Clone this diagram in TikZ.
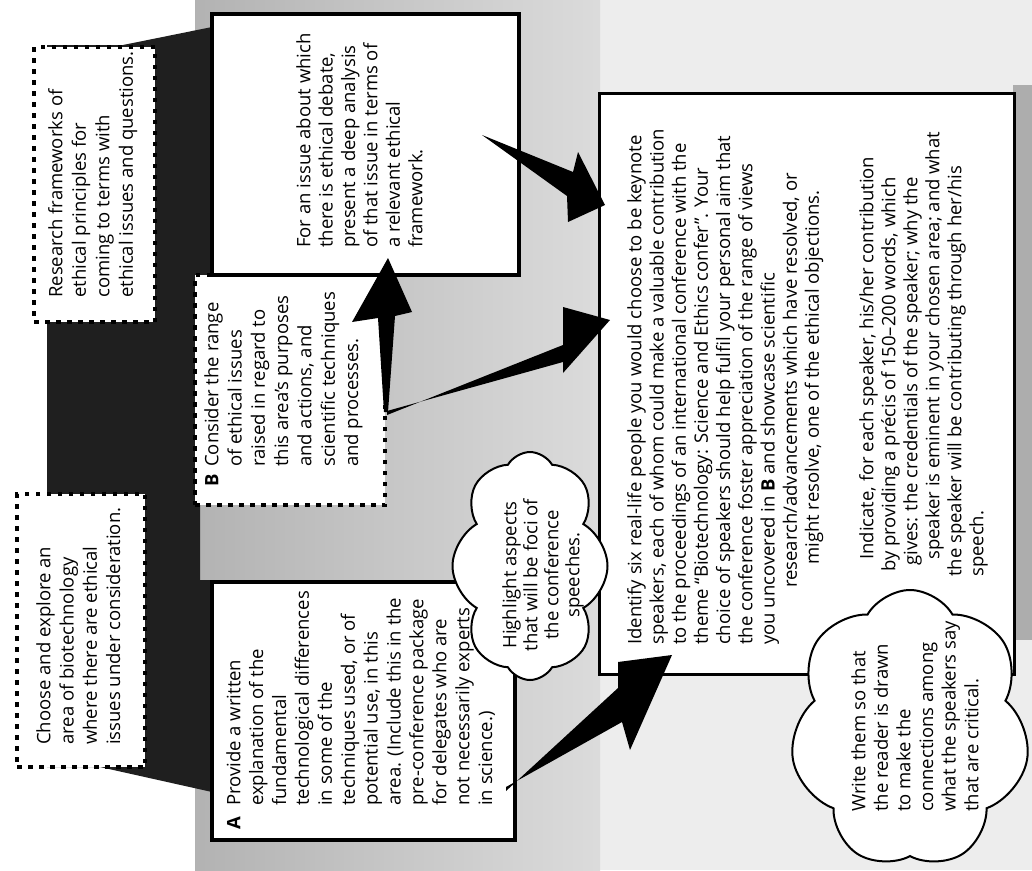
\documentclass[tikz,border=0pt]{standalone}
\usepackage{fontspec}
\setmainfont{Open Sans}
\usetikzlibrary{shapes.symbols}
\begin{document}
\begin{tikzpicture}[x=1pt,y=-1pt,
  solidbox/.style={draw=black, fill=white, line width=3.8pt, inner sep=0pt, anchor=north west},
  dashbox/.style={draw=black, fill=white, line width=4pt, dash pattern=on 4.5pt off 6.5pt, inner sep=0pt, anchor=north west},
  txt/.style={rotate=90, anchor=north west, align=left, inner sep=0pt, font=\fontsize{18.5pt}{#1}\selectfont},
  txt/.default=22.5pt,
  blockarrow/.style={fill=black},
  cloudnode/.style={cloud, cloud puffs=8, cloud puff arc=120, cloud ignores aspect, draw=black, fill=white, line width=2pt, inner sep=0pt}]
\useasboundingbox (0,0) rectangle (1032,870);
\fill[white] (0,0) rectangle (1032,870);
% speckled background
\fill[black!7] (195,0) rectangle (1032,870);
\shade[left color=black!30, right color=black!14] (195,0) rectangle (600,870);
\fill[black!32] (1013,85) rectangle (1032,640);
% dark band
\fill[black!88] (123,45) -- (212,27) -- (212,275) -- (195,275) -- (195,503) -- (200,503) -- (200,580) -- (212,580) -- (212,792) -- (100,767) -- (47,767) -- (47,45) -- cycle;
% boxes
\node[dashbox, minimum width=190pt, minimum height=230pt] (bcon) at (193,273) {};
\node[solidbox, minimum width=307pt, minimum height=261pt] (fiss) at (210,12) {};
\node[solidbox, minimum width=303pt, minimum height=258pt] (abox) at (210,580) {};
\node[solidbox, line width=3.2pt, minimum width=415pt, minimum height=581pt] (main) at (598,92) {};
\node[dashbox, minimum width=121pt, minimum height=275pt] (res) at (32,45) {};
\node[dashbox, minimum width=128pt, minimum height=273pt] (cho) at (15,492) {};
% arrows
\coordinate (t1) at (482,135); \coordinate (h1) at (605,205);
\coordinate (t2) at (387,413); \coordinate (h2) at (610,320);
\coordinate (t4) at (386,412); \coordinate (h4) at (388,258);
\coordinate (t3) at (506,789); \coordinate (h3) at (672,655);
\fill[blockarrow] (t1) -- (573,172) -- (578,152) -- (h1) -- (568,222) -- (567,196) -- cycle;
\fill[blockarrow] ([yshift=-2pt]t2) -- (563,345) -- (563,307) -- (h2) -- (563,373) -- (563,362) -- ([yshift=2pt]t2) -- cycle;
\fill[blockarrow] ([xshift=-2pt]t4) -- (378,318) -- (352,322) -- (h4) -- (412,312) -- (395,316) -- ([xshift=2pt]t4) -- cycle;
\fill[blockarrow] ([yshift=-2pt]t3) -- (618,688) -- (618,662) -- (h3) -- (630,750) -- (622,722) -- ([yshift=2pt]t3) -- cycle;
% clouds
\node[cloudnode, minimum width=155pt, minimum height=228pt] (c1) at (530,566) {};
\node[cloudnode, cloud puffs=7, minimum width=240pt, minimum height=278pt] (c2) at (910,729) {};
% texts
\node[txt=23.5pt] (tres) at (48,298) {Research frameworks of\\ethical principles for\\coming to terms with\\ethical issues and questions.};
\node[txt=23.3pt] (tcho) at (36,745) {Choose and explore an\\area of biotechnology\\where there are ethical\\issues under consideration.};
\node[txt=22.4pt] (tfis) at (296,248) {For an issue about which\\there is ethical debate,\\present a deep analysis\\of that issue in terms of\\a relevant ethical\\framework.};
\node[txt=23.3pt] (tbcon) at (204,487) {\makebox[20pt][l]{\textbf{B}}Consider the range\\\hspace*{20pt}of ethical issues\\\hspace*{20pt}raised in regard to\\\hspace*{20pt}this area’s purposes\\\hspace*{20pt}and actions, and\\\hspace*{20pt}scientific techniques\\\hspace*{20pt}and processes.};
\node[txt=22.9pt] (tabox) at (226,830) {\makebox[24pt][l]{\textbf{A}}Provide a written\\\hspace*{24pt}explanation of the\\\hspace*{24pt}fundamental\\\hspace*{24pt}technological differences\\\hspace*{24pt}in some of the\\\hspace*{24pt}techniques used, or of\\\hspace*{24pt}potential use, in this\\\hspace*{24pt}area. (Include this in the\\\hspace*{24pt}pre-conference package\\\hspace*{24pt}for delegates who are\\\hspace*{24pt}not necessarily experts\\\hspace*{24pt}in science.)};
\node[txt=22.2pt] (tmain) at (627,645) {Identify six real-life people you would choose to be keynote\\speakers, each of whom could make a valuable contribution\\to the proceedings of an international conference with the\\theme “Biotechnology: Science and Ethics confer”. Your\\choice of speakers should help fulfil your personal aim that\\the conference foster appreciation of the range of views\\you uncovered in \textbf{B} and showcase scientific\\\hspace*{57pt}research/advancements which have resolved, or\\\hspace*{80pt}might resolve, one of the ethical objections.};
\node[txt=22.0pt] (tind) at (859,577) {\hspace*{17pt}Indicate, for each speaker, his/her contribution\\\hspace*{5pt}by providing a précis of 150–200 words, which\\\hspace*{11pt}gives: the credentials of the speaker; why the\\\hspace*{17pt}speaker is eminent in your chosen area; and what\\the speaker will be contributing through her/his\\speech.};
\node[txt=22.6pt] (tc2) at (851,812) {Write them so that\\the reader is drawn\\to make the\\connections among\\what the speakers say\\that are critical.};
\node[rotate=90, align=center, inner sep=0pt, font=\fontsize{18.5pt}{21pt}\selectfont] (tc1) at (543,575) {Highlight aspects\\that will be foci of\\the conference\\speeches.};
\end{tikzpicture}
\end{document}
